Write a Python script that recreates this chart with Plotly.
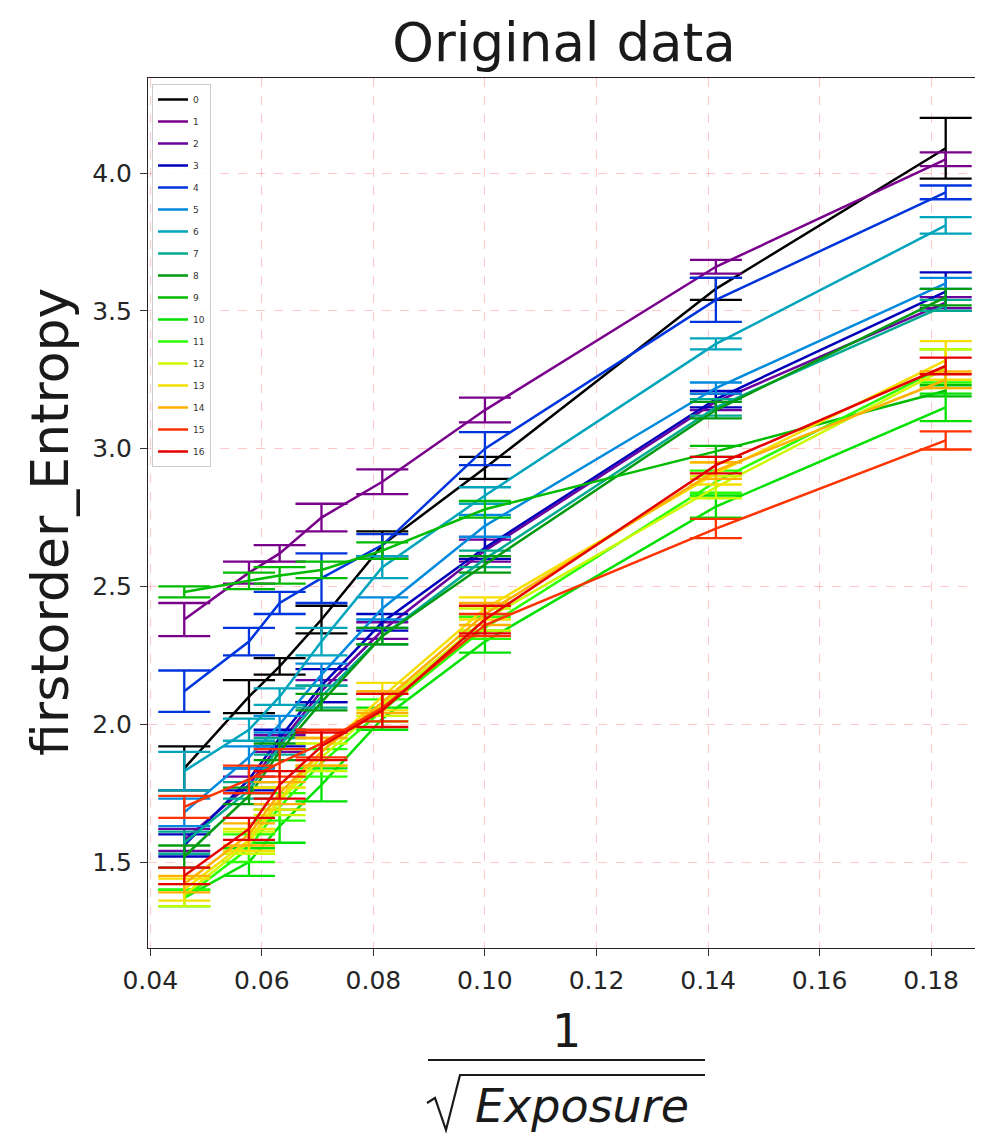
import plotly.graph_objects as go

# ---------------- data ----------------
x_vals = [0.0461, 0.0577, 0.0632, 0.0707, 0.0816, 0.1000, 0.1414, 0.1826]
labels = [str(i) for i in range(17)]

y_0 = [1.84, 2.10, 2.21, 2.38, 2.65, 2.93, 3.58, 4.09]
y_1 = [2.38, 2.55, 2.62, 2.75, 2.88, 3.14, 3.66, 4.05]
y_2 = [1.58, 1.78, 1.93, 2.12, 2.34, 2.63, 3.17, 3.53]
y_3 = [1.56, 1.80, 1.95, 2.14, 2.37, 2.64, 3.18, 3.57]
y_4 = [2.12, 2.30, 2.44, 2.53, 2.65, 3.00, 3.54, 3.93]
y_5 = [1.68, 1.88, 2.00, 2.18, 2.42, 2.72, 3.22, 3.60]
y_6 = [1.83, 1.98, 2.10, 2.30, 2.57, 2.83, 3.38, 3.81]
y_7 = [1.57, 1.76, 1.92, 2.10, 2.32, 2.60, 3.15, 3.52]
y_8 = [1.52, 1.74, 1.90, 2.08, 2.32, 2.58, 3.14, 3.55]
y_9 = [2.48, 2.52, 2.54, 2.56, 2.63, 2.78, 2.99, 3.21]
y_10 = [1.37, 1.50, 1.63, 1.78, 2.02, 2.30, 2.79, 3.15]
y_11 = [1.37, 1.55, 1.70, 1.86, 2.05, 2.35, 2.88, 3.30]
y_12 = [1.38, 1.57, 1.72, 1.88, 2.07, 2.38, 2.86, 3.29]
y_13 = [1.40, 1.58, 1.73, 1.90, 2.10, 2.42, 2.91, 3.32]
y_14 = [1.42, 1.60, 1.75, 1.90, 2.08, 2.40, 2.92, 3.25]
y_15 = [1.70, 1.80, 1.86, 1.93, 2.06, 2.36, 2.71, 3.03]
y_16 = [1.45, 1.62, 1.78, 1.92, 2.05, 2.38, 2.94, 3.30]

e_0 = [0.08, 0.06, 0.03, 0.05, 0.05, 0.04, 0.04, 0.11]
e_1 = [0.06, 0.04, 0.03, 0.05, 0.045, 0.045, 0.025, 0.025]
e_2 = [0.04, 0.03, 0.03, 0.04, 0.03, 0.04, 0.03, 0.02]
e_3 = [0.04, 0.04, 0.03, 0.06, 0.03, 0.04, 0.03, 0.07]
e_4 = [0.075, 0.05, 0.04, 0.09, 0.04, 0.06, 0.08, 0.025]
e_5 = [0.05, 0.04, 0.03, 0.04, 0.04, 0.04, 0.02, 0.02]
e_6 = [0.07, 0.04, 0.03, 0.05, 0.04, 0.03, 0.02, 0.03]
e_7 = [0.04, 0.03, 0.03, 0.04, 0.03, 0.03, 0.03, 0.02]
e_8 = [0.04, 0.03, 0.03, 0.03, 0.03, 0.03, 0.03, 0.03]
e_9 = [0.02, 0.03, 0.03, 0.03, 0.03, 0.03, 0.02, 0.02]
e_10 = [0.03, 0.05, 0.06, 0.06, 0.04, 0.04, 0.04, 0.05]
e_11 = [0.03, 0.05, 0.05, 0.05, 0.04, 0.04, 0.04, 0.06]
e_12 = [0.04, 0.04, 0.05, 0.05, 0.04, 0.04, 0.04, 0.07]
e_13 = [0.04, 0.04, 0.04, 0.05, 0.05, 0.04, 0.04, 0.07]
e_14 = [0.03, 0.04, 0.04, 0.05, 0.04, 0.04, 0.03, 0.03]
e_15 = [0.04, 0.05, 0.05, 0.05, 0.05, 0.04, 0.035, 0.033]
e_16 = [0.03, 0.04, 0.05, 0.05, 0.06, 0.05, 0.03, 0.03]

y_series = [y_0, y_1, y_2, y_3, y_4, y_5, y_6, y_7, y_8, y_9, y_10, y_11, y_12, y_13, y_14, y_15, y_16]
e_series = [e_0, e_1, e_2, e_3, e_4, e_5, e_6, e_7, e_8, e_9, e_10, e_11, e_12, e_13, e_14, e_15, e_16]

x_ticks = [0.04, 0.06, 0.08, 0.10, 0.12, 0.14, 0.16, 0.18]
x_ticktext = ["0.04", "0.06", "0.08", "0.10", "0.12", "0.14", "0.16", "0.18"]
y_ticks = [1.5, 2.0, 2.5, 3.0, 3.5, 4.0]
y_ticktext = ["1.5", "2.0", "2.5", "3.0", "3.5", "4.0"]

# nipy_spectral samples (i/18)
colors = ["#000000", "#79008a", "#6a009d", "#0000bb", "#0035dd", "#008add",
          "#00a4bb", "#00aa90", "#009b0f", "#00bb00", "#00e100", "#2aff00",
          "#ccf900", "#f6df00", "#ffb000", "#ff3300", "#e50000"]

FONT = "DejaVu Sans"
TXT = "#1a1a1a"

fig = go.Figure()
for i, (ys, es) in enumerate(zip(y_series, e_series)):
    fig.add_trace(go.Scatter(
        x=x_vals, y=ys, mode="lines", name=labels[i],
        legendgroup="g" + labels[i],
        line=dict(color=colors[i], width=2.5),
        error_y=dict(type="data", array=es, visible=True,
                     color=colors[i], thickness=2.3, width=26),
    ))

# absolute page pixels of the plot area (page has 8px body margin)
OFF = 8
L, R, T, B = 148, 980, 78, 948
W, H = 983 - OFF, 1138 - OFF


def px(x):
    return (x - L) / (R - L)


def py(y):
    return (B - y) / (B - T)


grid = dict(showgrid=True, gridcolor="rgba(255,0,0,0.22)", griddash="dash", gridwidth=1)
axcommon = dict(ticks="outside", ticklen=7, tickcolor="#333", tickwidth=1,
                ticklabelstandoff=3,
                tickfont=dict(size=25, family=FONT, color="#262626"),
                showline=True, linecolor="#222", linewidth=1.2, mirror=True, zeroline=False)

fig.update_layout(
    width=W, height=H,
    margin=dict(l=L - OFF, r=OFF + W - R, t=T - OFF, b=OFF + H - B),
    paper_bgcolor="white", plot_bgcolor="white",
    font=dict(family=FONT, color="#262626"),
    title=dict(text="Original data", x=(564 - OFF) / W, xanchor="center",
               y=1 - (42 - OFF) / H, yanchor="middle", font=dict(size=53, family=FONT, color=TXT)),
    xaxis=dict(range=[0.0396, 0.18875], tickvals=x_ticks, ticktext=x_ticktext, **axcommon, **grid),
    yaxis=dict(range=[1.188, 4.345], tickvals=y_ticks, ticktext=y_ticktext, **axcommon, **grid),
    legend=dict(x=px(152), y=py(84), xanchor="left", yanchor="top",
                bgcolor="rgba(255,255,255,0.85)", bordercolor="#cccccc", borderwidth=1,
                font=dict(size=9, family=FONT, color="#333"), tracegroupgap=3,
                itemwidth=30),
    showlegend=True,
)

# y label
fig.add_annotation(text="firstorder_Entropy", xref="paper", yref="paper",
                   x=px(50), y=py(522), xanchor="center", yanchor="middle",
                   textangle=-90, showarrow=False, font=dict(size=52, family=FONT, color=TXT))

# x label: 1 / sqrt(Exposure)
fig.add_annotation(text="1", xref="paper", yref="paper", x=px(566), y=py(1031),
                   xanchor="center", yanchor="middle", showarrow=False,
                   font=dict(size=46, family=FONT, color=TXT))
fig.add_shape(type="line", xref="paper", yref="paper", x0=px(428), x1=px(705),
              y0=py(1060), y1=py(1060), line=dict(color=TXT, width=2))
# radical sign with vinculum
rad_pts = [(427, 1103), (435, 1098), (446, 1130), (460, 1075), (705, 1075)]
rad_path = "M " + " L ".join(f"{px(a):.5f},{py(b):.5f}" for a, b in rad_pts)
fig.add_shape(type="path", xref="paper", yref="paper", path=rad_path,
              line=dict(color=TXT, width=2.2))
fig.add_annotation(text="<i>Exposure</i>", xref="paper", yref="paper", x=px(582), y=py(1106),
                   xanchor="center", yanchor="middle", showarrow=False,
                   font=dict(size=46, family=FONT, color=TXT))

fig.write_html("out.html")
